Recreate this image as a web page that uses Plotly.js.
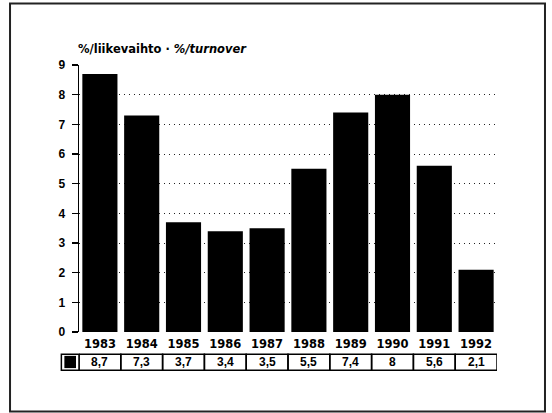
<!DOCTYPE html>
<html>
<head>
<meta charset="utf-8">
<script src="https://cdn.plot.ly/plotly-3.0.1.min.js"></script>
<style>html,body{margin:0;padding:0;background:#fff;}#chart{width:552px;height:413px;}</style>
</head>
<body>
<div id="chart"></div>
<script>
const years = ['1983','1984','1985','1986','1987','1988','1989','1990','1991','1992'];
const values = [8.7, 7.3, 3.7, 3.4, 3.5, 5.5, 7.4, 8, 5.6, 2.1];
const yTicks = [0,1,2,3,4,5,6,7,8,9];
const titleMain = '%/liikevaihto';
const titleSub = '%/turnover';

const fmt = v => String(v).replace('.', ',');

const tableTop = -0.0834, tableBot = -0.1432, tableMid = -0.1133;
const shapes = [];
const annotations = [];

// outer frame
shapes.push({type:'rect', xref:'paper', yref:'paper', x0:-0.165, x1:1.1148, y0:-0.2975, y1:1.2306,
  line:{color:'#222', width:2}, fillcolor:'rgba(0,0,0,0)', layer:'below'});

// swatch cell
shapes.push({type:'rect', xref:'paper', yref:'paper', x0:-0.0422, x1:0, y0:tableBot, y1:tableTop,
  line:{color:'#000', width:1.5}});
shapes.push({type:'rect', xref:'paper', yref:'paper', x0:-0.035, x1:-0.0072, y0:tableBot+0.008, y1:tableTop-0.006,
  line:{width:0}, fillcolor:'#000'});

years.forEach((yr, i) => {
  shapes.push({type:'rect', xref:'x', yref:'paper', x0:i-0.5, x1:i+0.5, y0:tableBot, y1:tableTop,
    line:{color:'#000', width:1.5}});
  annotations.push({xref:'x', yref:'paper', x:i, y:tableMid, text:fmt(values[i]),
    showarrow:false, xanchor:'center', yanchor:'middle',
    font:{family:'Liberation Sans, Arial, sans-serif', size:12, color:'#000', weight:'bold'}});
});

annotations.push({xref:'paper', yref:'paper', x:-0.007, y:1.0587, xanchor:'left', yanchor:'middle',
  showarrow:false, text:titleMain+' · <i>'+titleSub+'</i>',
  font:{family:'DejaVu Sans, sans-serif', size:11.5, color:'#000', weight:'bold'}});

const data = [{
  type:'bar', x: years.map((_,i)=>i), y: values,
  marker:{color:'#000', line:{width:0}},
  hoverinfo:'skip'
}];

const layout = {
  width:552, height:413,
  margin:{l:79, r:55, t:65, b:81, pad:0},
  paper_bgcolor:'#fff', plot_bgcolor:'#fff',
  showlegend:false,
  bargap:0.16,
  xaxis:{
    range:[-0.5, 9.5], tickmode:'array', tickvals: years.map((_,i)=>i), ticktext: years,
    showgrid:false, zeroline:false, showline:false, ticks:'', ticklabelstandoff:3,
    tickfont:{family:'DejaVu Sans, sans-serif', size:11.5, color:'#000', weight:'bold'},
    fixedrange:true
  },
  yaxis:{
    range:[0, 9], tickmode:'array', tickvals:yTicks, ticktext: yTicks.map(String),
    showgrid:true, gridcolor:'#222', gridwidth:1, griddash:'1px,4px',
    zeroline:false, showline:true, linecolor:'#000', linewidth:1.5,
    ticks:'outside', ticklen:6, tickwidth:1.5, tickcolor:'#000', ticklabelstandoff:4,
    tickfont:{family:'Liberation Sans, Arial, sans-serif', size:12, color:'#000', weight:'bold'},
    fixedrange:true
  },
  shapes: shapes,
  annotations: annotations
};

Plotly.newPlot('chart', data, layout, {displayModeBar:false, staticPlot:true});
</script>
</body>
</html>
